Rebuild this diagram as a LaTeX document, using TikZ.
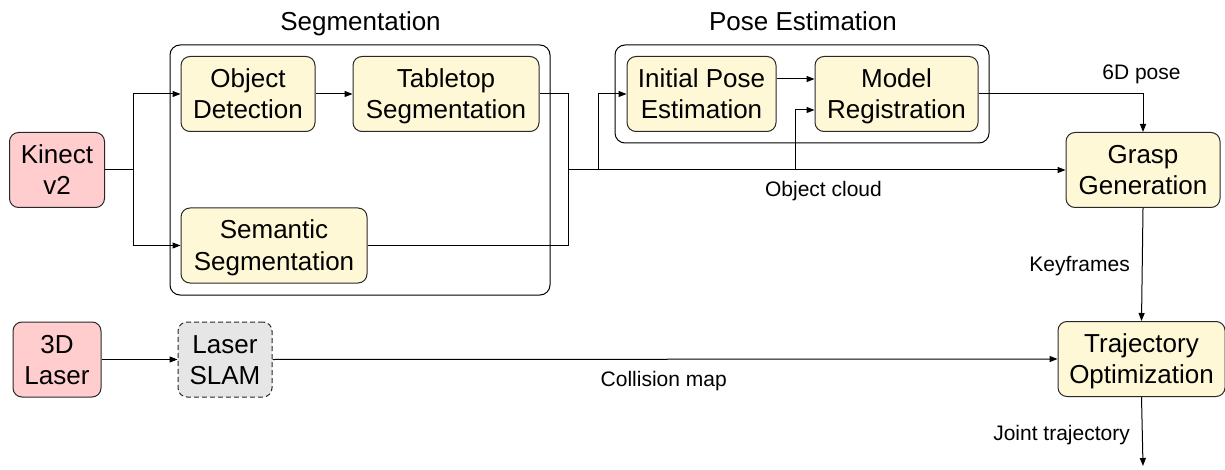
\documentclass[tikz,border=0pt]{standalone}
\usepackage{fontspec}
\setmainfont{Liberation Sans}
\usetikzlibrary{arrows.meta}
\definecolor{boxyellow}{RGB}{255,248,214}
\definecolor{boxred}{RGB}{255,205,205}
\definecolor{boxgray}{RGB}{230,230,230}
\definecolor{edgegray}{RGB}{40,40,40}
% fixed line height so every two-line block sits at the same baselines
\newcommand{\ls}{\rule[-4.5pt]{0pt}{27.5pt}}

\begin{document}
\begin{tikzpicture}[x=1pt,y=-1pt,
  blk/.style={draw=edgegray, line width=1pt, rounded corners=9pt, align=center,
    inner sep=0pt, minimum height=75pt, font=\fontsize{26}{31.5}\selectfont},
  proc/.style={blk, fill=boxyellow},
  sensor/.style={blk, fill=boxred},
  optional/.style={blk, fill=boxgray, dash pattern=on 5pt off 3pt},
  group/.style={draw=black, line width=1pt, rounded corners=10pt, inner sep=0pt},
  title/.style={font=\fontsize{26}{31.5}\selectfont, anchor=base, inner sep=0pt},
  lbl/.style={font=\fontsize{21}{25}\selectfont, inner sep=0pt},
  conn/.style={line width=1pt, draw=black},
  arr/.style={conn, -{Triangle[length=8pt,width=6pt]}},
]
\useasboundingbox (0,0) rectangle (1225,470);

% grouping frames
\node[group, minimum width=380pt, minimum height=250pt] (segbox) at (360,170) {};
\node[group, minimum width=374pt, minimum height=98pt] (posebox) at (802,94) {};
\node[title] (segtitle) at (360.5,30.6) {Segmentation};
\node[title] (posetitle) at (803,30.6) {Pose Estimation};

% blocks
\node[sensor, minimum width=95pt] (kinect) at (57,170) {\ls Kinect\\\ls v2};
\node[proc, minimum width=134pt] (objdet) at (248,94) {\ls Object\\\ls Detection};
\node[proc, minimum width=186pt] (table) at (446,94) {\ls Tabletop\\\ls Segmentation};
\node[proc, minimum width=186pt] (sem) at (274,245.5) {\ls Semantic\\\ls Segmentation};
\node[proc, minimum width=149pt] (init) at (701.5,94) {\ls Initial Pose\\\ls Estimation};
\node[proc, minimum width=163pt] (reg) at (896.5,94) {\ls Model\\\ls Registration};
\node[proc, minimum width=154pt] (grasp) at (1143,170) {\ls Grasp\\\ls Generation};
\node[sensor, minimum width=88pt] (laser) at (57,359.5) {\ls 3D\\\ls Laser};
\node[optional, minimum width=94pt] (slam) at (225,359.5) {\ls Laser\\\ls SLAM};
\node[proc, minimum width=167pt] (traj) at (1141.5,359) {\ls Trajectory\\\ls Optimization};

% junctions
\coordinate (kj) at (133,170);
\coordinate (sj) at (568,170);
\coordinate (pj) at (598,170);
\coordinate (rj) at (795,170);
\coordinate (out) at (1143,466);

% connectors
\draw[conn] (kinect.east) -- (kj);
\draw[arr] (kj) |- (objdet.west);
\draw[arr] (kj) |- (sem.west);
\draw[arr] (objdet.east) -- (table.west);
\draw[conn] (table.east) -| (sj);
\draw[conn] (sem.east) -| (sj);
\draw[arr] (sj) -- (grasp.west);
\draw[arr] (pj) |- (init.west);
\draw[arr] (rj) |- ([yshift=-16pt]reg.west);
\draw[arr] ([yshift=15pt]init.east) -- ([yshift=15pt]reg.west);
\draw[arr] (reg.east) -| (grasp.north);
\draw[arr] (grasp.south) -- (traj.north);
\draw[arr] (laser.east) -- (slam.west);
\draw[arr] (slam.east) -- (traj.west);
\draw[arr] (traj.south) -- (out);

% connector labels
\node[lbl, anchor=base] (l6d) at (1141.5,80) {6D pose};
\node[lbl, anchor=base] (lcloud) at (823.5,197) {Object cloud};
\node[lbl, anchor=base east] (lkey) at (1130,272) {Keyframes};
\node[lbl, anchor=base] (lcoll) at (663.7,386) {Collision map};
\node[lbl, anchor=base east] (ljoint) at (1130,440) {Joint trajectory};
\end{tikzpicture}
\end{document}
